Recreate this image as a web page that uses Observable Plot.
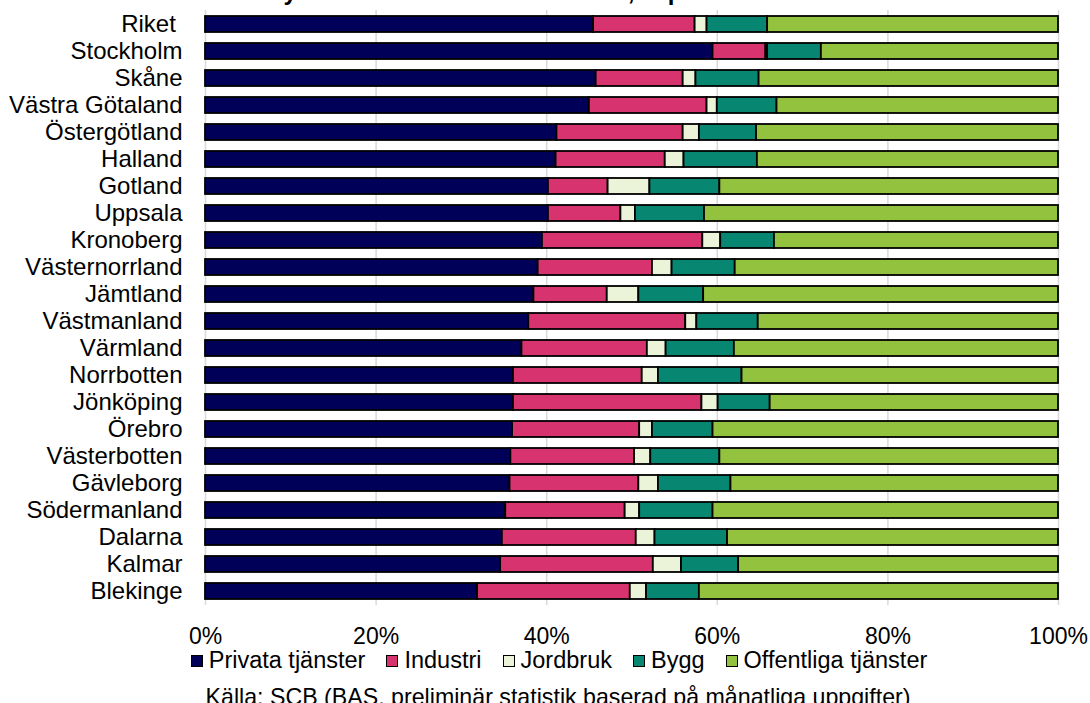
<!DOCTYPE html>
<html>
<head>
<meta charset="utf-8">
<script src="https://cdn.jsdelivr.net/npm/d3@7"></script>
<script src="https://cdn.jsdelivr.net/npm/@observablehq/plot@0.6"></script>
<style>
  html, body { margin: 0; padding: 0; background: #fff; overflow: hidden; }
  #wrap { position: relative; width: 1090px; height: 703px; font-family: "Liberation Sans", Arial, sans-serif; color: #000; }
  #title { position: absolute; left: 0; width: 1090px; top: -22px; text-align: center; font-weight: bold; font-size: 24px; line-height: 27px; }
  #chart svg { display: block; }
  #legend { text-align: center; font-size: 23.5px; line-height: 24px; height: 24px; padding-left: 28px; white-space: nowrap; }
  #legend .item { display: inline-block; margin-right: 21px; }
  #legend .item:last-child { margin-right: 0; }
  #legend .sw { display: inline-block; width: 10px; height: 10px; border: 1px solid #000; margin-right: 6px; vertical-align: 1px; }
  #caption { text-align: center; font-size: 23.2px; line-height: 24px; margin-top: 13px; padding-left: 26px; white-space: nowrap; }
</style>
</head>
<body>
<div id="wrap">
  <div id="title">Sysselsatta efter sektor och län, september 2015</div>
  <div id="chart"></div>
  <div id="legend"></div>
  <div id="caption">Källa: SCB (BAS, preliminär statistik baserad på månatliga uppgifter)</div>
</div>
<script>
const regions = ["Riket","Stockholm","Skåne","Västra Götaland","Östergötland","Halland","Gotland","Uppsala","Kronoberg","Västernorrland","Jämtland","Västmanland","Värmland","Norrbotten","Jönköping","Örebro","Västerbotten","Gävleborg","Södermanland","Dalarna","Kalmar","Blekinge"];
const sectors = ["Privata tjänster","Industri","Jordbruk","Bygg","Offentliga tjänster"];
const colors = ["#000058","#D6336F","#EBF3D9","#078671","#93C23F"];

const privata    = [45.5,59.5,45.8,45.0,41.2,41.1,40.2,40.2,39.5,39.0,38.5,37.9,37.1,36.1,36.1,36.0,35.8,35.7,35.2,34.8,34.6,31.9];
const industri   = [11.9, 6.2,10.2,13.8,14.8,12.8, 7.0, 8.5,18.8,13.4, 8.6,18.4,14.7,15.1,22.1,14.9,14.5,15.1,14.0,15.7,17.9,17.9];
const jordbruk   = [ 1.4, 0.2, 1.5, 1.2, 1.9, 2.2, 4.9, 1.7, 2.1, 2.3, 3.7, 1.3, 2.2, 1.9, 1.9, 1.5, 1.9, 2.3, 1.7, 2.2, 3.3, 1.9];
const bygg       = [ 7.1, 6.3, 7.4, 7.0, 6.7, 8.6, 8.2, 8.1, 6.3, 7.4, 7.6, 7.2, 8.0, 9.8, 6.1, 7.1, 8.1, 8.5, 8.6, 8.5, 6.7, 6.2];
const offentliga = [34.1,27.8,35.1,33.0,35.4,35.3,39.7,41.5,33.3,37.9,41.6,35.2,38.0,37.1,33.8,40.5,39.7,38.4,40.5,38.8,37.5,42.1];

const xTicks = [0, 20, 40, 60, 80, 100];

const series = [privata, industri, jordbruk, bygg, offentliga];
const table = [];
regions.forEach((r, i) => {
  sectors.forEach((s, j) => table.push({region: r, sector: s, value: series[j][i]}));
});

const chart = Plot.plot({
  width: 1090,
  height: 648,
  marginLeft: 205,
  marginRight: 32,
  marginTop: 10,
  marginBottom: 43,
  style: {fontFamily: "'Liberation Sans', Arial, sans-serif", fontSize: "23px", color: "#000", background: "#fff", overflow: "visible"},
  x: {domain: [0, 100]},
  y: {domain: regions, paddingInner: 0.4, paddingOuter: 0.16},
  color: {domain: sectors, range: colors},
  marks: [
    Plot.ruleX(xTicks, {stroke: "#d9d9d9", strokeWidth: 1.5}),
    Plot.barX(table, Plot.stackX({x: "value", y: "region", fill: "sector", stroke: "#000", strokeWidth: 1.8})),
    Plot.axisX({ticks: xTicks, tickFormat: d => d + "%", tickSize: 0, tickPadding: 22, fontSize: 23, label: null, fill: "#000"}),
    Plot.axisY({tickSize: 0, tickPadding: 23, fontSize: 24, label: null, fill: "#000",
      tickFormat: d => d === "Riket" ? d + "\u00a0" : d})
  ]
});
document.getElementById("chart").appendChild(chart);

const legend = document.getElementById("legend");
sectors.forEach((s, i) => {
  const it = document.createElement("span");
  it.className = "item";
  const sw = document.createElement("span");
  sw.className = "sw";
  sw.style.background = colors[i];
  it.appendChild(sw);
  it.appendChild(document.createTextNode(s));
  legend.appendChild(it);
});
</script>
</body>
</html>
